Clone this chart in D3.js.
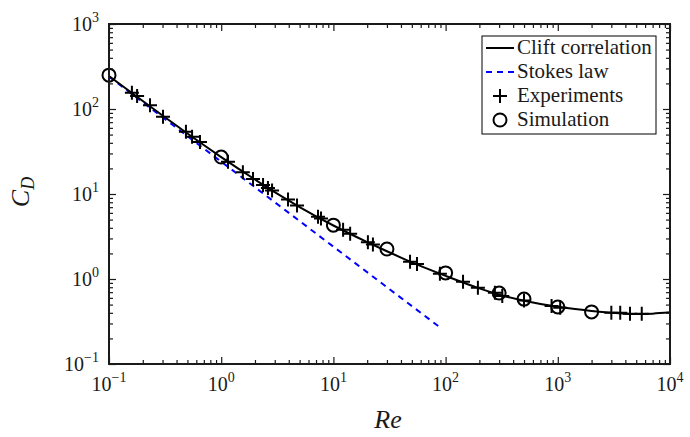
<!DOCTYPE html>
<html>
<head>
<meta charset="utf-8">
<script src="https://cdn.jsdelivr.net/npm/d3@7"></script>
<style>
  html, body { margin: 0; padding: 0; background: #fff; }
  svg { display: block; }
</style>
</head>
<body>
<svg id="chart" width="690" height="437"></svg>
<script>

/* ── Data ── */
const cliftRe = [0.1, 0.2, 0.3, 0.5, 1, 2, 3, 5, 10, 20, 30, 50, 100, 200, 300, 500, 1000, 1500, 2000, 3000, 5000, 7000, 10000];
const cliftCd = [244, 124, 83.8, 51.5, 27.2, 14.8, 10.5, 7.03, 4.26, 2.72, 2.12, 1.57, 1.09, 0.776, 0.653, 0.555, 0.471, 0.441, 0.421, 0.400, 0.387, 0.391, 0.405];

const stokesRe = [0.1, 90];
const stokesCd = [240, 0.267];

const expRe = [0.16, 0.178, 0.232, 0.303, 0.485, 0.55, 0.647, 1.15, 1.56, 1.92, 2.36, 2.61, 2.84, 3.94, 4.74,
               7.29, 7.75, 12.2, 14.1, 20.3, 22.5, 48.2, 55.6, 89, 143, 194, 275, 320, 500, 880, 1050,
               3000, 3600, 4400, 5600];
const expCd = [155, 142, 111, 81, 54, 47, 41, 24, 18, 15, 12.8, 11.8, 11, 8.6, 7.3,
               5.4, 5.15, 3.8, 3.4, 2.7, 2.55, 1.6, 1.5, 1.15, 0.93, 0.79, 0.69, 0.63, 0.56, 0.48, 0.46,
               0.40, 0.40, 0.39, 0.39];

const simRe = [0.1, 1, 10, 30, 100, 300, 500, 1000, 2000];
const simCd = [250, 27.2, 4.3, 2.25, 1.18, 0.684, 0.58, 0.469, 0.41];

const xDecades = [-1, 0, 1, 2, 3, 4];
const yDecades = [-1, 0, 1, 2, 3];

const legendItems = [
  { label: 'Clift correlation', kind: 'line' },
  { label: 'Stokes law',        kind: 'dash' },
  { label: 'Experiments',       kind: 'plus' },
  { label: 'Simulation',        kind: 'circle' }
];

/* ── Layout ── */
const plot = { left: 109, right: 670, top: 24, bottom: 364 };
const serif = "'Liberation Serif', 'DejaVu Serif', serif";
const ink = '#1a1a1a';

const svg = d3.select('#chart');

const x = d3.scaleLog().domain([0.1, 1e4]).range([plot.left, plot.right]);
const y = d3.scaleLog().domain([0.1, 1e3]).range([plot.bottom, plot.top]);

/* minor tick values 2..9 in every decade */
function minorTicks(lo, hi) {
  const out = [];
  for (let e = lo; e < hi; e++)
    for (let m = 2; m <= 9; m++) out.push(m * Math.pow(10, e));
  return out;
}

/* ── Series ── */
svg.append('clipPath').attr('id', 'plot-clip')
  .append('rect')
  .attr('x', plot.left).attr('y', plot.top)
  .attr('width', plot.right - plot.left).attr('height', plot.bottom - plot.top);

const line = d3.line()
  .x(d => x(d[0]))
  .y(d => y(d[1]))
  .curve(d3.curveMonotoneX);

svg.append('path')
  .datum(stokesRe.map((r, i) => [r, stokesCd[i]]))
  .attr('d', d3.line().x(d => x(d[0])).y(d => y(d[1])))
  .attr('fill', 'none')
  .attr('stroke', '#0000ff')
  .attr('stroke-width', 2)
  .attr('stroke-dasharray', '6,5');

svg.append('path')
  .datum(cliftRe.map((r, i) => [r, cliftCd[i]]))
  .attr('d', line)
  .attr('clip-path', 'url(#plot-clip)')
  .attr('fill', 'none')
  .attr('stroke', '#000')
  .attr('stroke-width', 2);

const plusSize = 7;
const circleR = 6.5;

svg.append('g').selectAll('path.plus')
  .data(expRe.map((r, i) => [r, expCd[i]]))
  .join('path')
  .attr('class', 'plus')
  .attr('d', d => {
    const cx = x(d[0]), cy = y(d[1]);
    return `M${cx - plusSize},${cy}H${cx + plusSize}M${cx},${cy - plusSize}V${cy + plusSize}`;
  })
  .attr('stroke', '#000')
  .attr('stroke-width', 2)
  .attr('fill', 'none');

svg.append('g').selectAll('circle.sim')
  .data(simRe.map((r, i) => [r, simCd[i]]))
  .join('circle')
  .attr('class', 'sim')
  .attr('cx', d => x(d[0]))
  .attr('cy', d => y(d[1]))
  .attr('r', circleR)
  .attr('fill', 'none')
  .attr('stroke', '#000')
  .attr('stroke-width', 2);

/* ── Axes: inward ticks on all four sides ── */
const xMajor = xDecades.map(e => Math.pow(10, e));
const yMajor = yDecades.map(e => Math.pow(10, e));
const xMinor = minorTicks(-1, 4);
const yMinor = minorTicks(-1, 3);

function tickLayer(axisFn, scale, values, len, transform) {
  const g = svg.append('g')
    .attr('transform', transform)
    .call(axisFn(scale).tickValues(values).tickSize(len).tickFormat(''));
  g.select('.domain').remove();
  g.selectAll('line').attr('stroke', ink).attr('stroke-width', 1.2);
  return g;
}

tickLayer(d3.axisBottom, x, xMajor, -7, `translate(0,${plot.bottom})`);
tickLayer(d3.axisBottom, x, xMinor, -4, `translate(0,${plot.bottom})`);
tickLayer(d3.axisTop,    x, xMajor, -7, `translate(0,${plot.top})`);
tickLayer(d3.axisTop,    x, xMinor, -4, `translate(0,${plot.top})`);
tickLayer(d3.axisLeft,   y, yMajor, -7, `translate(${plot.left},0)`);
tickLayer(d3.axisLeft,   y, yMinor, -4, `translate(${plot.left},0)`);
tickLayer(d3.axisRight,  y, yMajor, -7, `translate(${plot.right},0)`);
tickLayer(d3.axisRight,  y, yMinor, -4, `translate(${plot.right},0)`);

svg.append('rect')
  .attr('x', plot.left).attr('y', plot.top)
  .attr('width', plot.right - plot.left).attr('height', plot.bottom - plot.top)
  .attr('fill', 'none')
  .attr('stroke', ink)
  .attr('stroke-width', 2);

/* ── Tick labels 10^n ── */
function powerLabel(sel, e) {
  sel.append('tspan').text('10');
  sel.append('tspan')
    .attr('dy', -9)
    .attr('font-size', 14)
    .text(e < 0 ? '\u2212' + Math.abs(e) : String(e));
}

svg.append('g').selectAll('text')
  .data(xDecades)
  .join('text')
  .attr('x', d => x(Math.pow(10, d)))
  .attr('y', 391)
  .attr('text-anchor', 'middle')
  .attr('font-family', serif)
  .attr('font-size', 20)
  .attr('fill', ink)
  .each(function(d) { powerLabel(d3.select(this), d); });

svg.append('g').selectAll('text')
  .data(yDecades)
  .join('text')
  .attr('x', 99)
  .attr('y', d => y(Math.pow(10, d)) + 7)
  .attr('text-anchor', 'end')
  .attr('font-family', serif)
  .attr('font-size', 20)
  .attr('fill', ink)
  .each(function(d) { powerLabel(d3.select(this), d); });

/* ── Axis titles ── */
svg.append('text')
  .attr('x', 388).attr('y', 428)
  .attr('text-anchor', 'middle')
  .attr('font-family', serif)
  .attr('font-style', 'italic')
  .attr('font-size', 26)
  .attr('fill', ink)
  .text('Re');

const yTitle = svg.append('text')
  .attr('transform', 'translate(29,192) rotate(-90)')
  .attr('text-anchor', 'middle')
  .attr('font-family', serif)
  .attr('font-style', 'italic')
  .attr('font-size', 26)
  .attr('fill', ink);
yTitle.append('tspan').text('C');
yTitle.append('tspan').attr('dy', 5).attr('font-size', 18).text('D');

/* ── Legend ── */
const legend = svg.append('g').attr('transform', 'translate(482,36)');

legend.append('rect')
  .attr('width', 174).attr('height', 98)
  .attr('fill', '#fff')
  .attr('stroke', '#000')
  .attr('stroke-width', 1);

const rows = legend.selectAll('g.row')
  .data(legendItems)
  .join('g')
  .attr('class', 'row')
  .attr('transform', (d, i) => `translate(0,${12 + i * 24})`);

rows.each(function(d) {
  const g = d3.select(this);
  if (d.kind === 'line' || d.kind === 'dash') {
    g.append('line')
      .attr('x1', 4).attr('x2', 32).attr('y1', 0).attr('y2', 0)
      .attr('stroke', d.kind === 'line' ? '#000' : '#0000ff')
      .attr('stroke-width', 2)
      .attr('stroke-dasharray', d.kind === 'dash' ? '6,5' : null);
  } else if (d.kind === 'plus') {
    g.append('path')
      .attr('d', `M${18 - plusSize},0H${18 + plusSize}M18,${-plusSize}V${plusSize}`)
      .attr('stroke', '#000').attr('stroke-width', 2);
  } else {
    g.append('circle')
      .attr('cx', 18).attr('cy', 0).attr('r', circleR)
      .attr('fill', 'none').attr('stroke', '#000').attr('stroke-width', 2);
  }
  g.append('text')
    .attr('x', 35).attr('y', 6)
    .attr('font-family', serif)
    .attr('font-size', 21)
    .attr('fill', ink)
    .text(d.label);
});

</script>
</body>
</html>
